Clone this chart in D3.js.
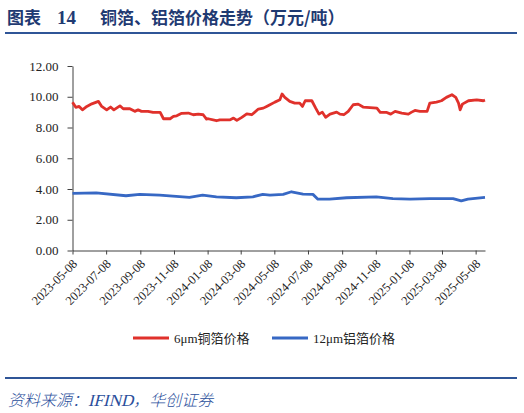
<!DOCTYPE html>
<html>
<head>
<meta charset="utf-8">
<script src="https://cdn.jsdelivr.net/npm/d3@7"></script>
<style>
  body { margin: 0; background: #fff; }
  svg { display: block; }
  .axis path, .axis line { stroke: #404040; }
</style>
</head>
<body>
<div id="chart"></div>
<script>
// 6μm copper foil price, 万元/吨
var copperDates = ["2023-05-08","2023-05-14","2023-05-20","2023-05-26","2023-06-03","2023-06-12","2023-06-24","2023-06-30",
  "2023-07-09","2023-07-16","2023-07-22","2023-08-02","2023-08-08","2023-08-20","2023-08-29","2023-09-04","2023-09-10",
  "2023-09-22","2023-10-01","2023-10-14","2023-10-20","2023-11-01","2023-11-07","2023-11-13","2023-11-22","2023-12-04",
  "2023-12-13","2023-12-22","2023-12-31","2024-01-06","2024-01-09","2024-01-24","2024-01-30","2024-02-18","2024-02-24",
  "2024-03-01","2024-03-10","2024-03-19","2024-03-28","2024-04-09","2024-04-18","2024-04-24","2024-04-30","2024-05-09",
  "2024-05-18","2024-05-22","2024-05-27","2024-06-05","2024-06-14","2024-06-23","2024-06-28","2024-07-03","2024-07-15",
  "2024-07-22","2024-07-28","2024-08-03","2024-08-09","2024-08-17","2024-08-29","2024-09-04","2024-09-11","2024-09-19",
  "2024-09-28","2024-10-07","2024-10-16","2024-11-10","2024-11-16","2024-11-28","2024-12-05","2024-12-13","2024-12-25",
  "2025-01-06","2025-01-12","2025-01-18","2025-01-27","2025-02-09","2025-02-14","2025-02-26","2025-03-07","2025-03-16",
  "2025-03-26","2025-04-02","2025-04-07","2025-04-10","2025-04-14","2025-04-25","2025-05-10","2025-05-22","2025-05-25"];
var copperValues = [9.65,9.31,9.37,9.15,9.37,9.54,9.70,9.37,
  9.15,9.33,9.15,9.41,9.22,9.22,9.05,9.15,9.05,
  9.05,8.98,8.98,8.57,8.57,8.72,8.76,8.92,8.94,
  8.83,8.87,8.83,8.55,8.57,8.44,8.50,8.50,8.61,
  8.46,8.66,8.89,8.83,9.20,9.26,9.37,9.48,9.65,
  9.80,10.18,9.96,9.70,9.59,9.59,9.37,9.74,9.74,
  9.26,8.87,9.00,8.66,8.87,9.00,8.87,8.83,9.05,
  9.48,9.52,9.33,9.26,8.98,8.98,8.87,9.05,8.94,
  8.87,9.00,9.11,9.05,9.05,9.59,9.65,9.74,9.96,
  10.13,9.96,9.59,9.15,9.52,9.74,9.80,9.74,9.78];

// 12μm aluminium foil price, 万元/吨
var aluDates = ["2023-05-08","2023-06-20","2023-08-13","2023-09-07","2023-10-13","2023-12-06","2023-12-30","2024-01-24",
  "2024-02-29","2024-03-30","2024-04-17","2024-04-30","2024-05-24","2024-06-08","2024-06-29","2024-07-17","2024-07-26",
  "2024-08-16","2024-09-16","2024-11-09","2024-12-09","2025-01-09","2025-02-14","2025-03-28","2025-04-12","2025-04-24",
  "2025-05-25"];
var aluValues = [3.71,3.75,3.56,3.65,3.60,3.45,3.60,3.49,
  3.43,3.49,3.65,3.60,3.65,3.82,3.67,3.65,3.34,
  3.34,3.43,3.49,3.38,3.34,3.38,3.38,3.23,3.34,
  3.45];

var tickDates = ["2023-05-08","2023-07-08","2023-09-08","2023-11-08","2024-01-08","2024-03-08","2024-05-08",
  "2024-07-08","2024-09-08","2024-11-08","2025-01-08","2025-03-08","2025-05-08"];
var yTicks = [0, 2, 4, 6, 8, 10, 12];

var W = 524, H = 413;
var SERIF = "'Liberation Serif', 'Times New Roman', 'DejaVu Serif', serif";
var parse = d3.timeParse("%Y-%m-%d");

var svg = d3.select("#chart").append("svg")
    .attr("width", W)
    .attr("height", H);

// title and rules
var title = svg.append("g").attr("fill", "#1f3a72").attr("font-weight", "bold");
title.append("text").attr("x", 7).attr("y", 24)
    .style("font-family", "'Noto Sans CJK SC'").style("font-size", "17px").text("图表");
title.append("text").attr("x", 57).attr("y", 24)
    .style("font-family", SERIF).style("font-size", "19px").text("14");
title.append("text").attr("x", 100).attr("y", 24)
    .style("font-family", "'Noto Sans CJK SC'").style("font-size", "17px").text("铜箔、铝箔价格走势（万元/吨）");

svg.append("line").attr("x1", 5).attr("x2", 517).attr("y1", 33).attr("y2", 33)
    .attr("stroke", "#2f5597").attr("stroke-width", 2);
svg.append("line").attr("x1", 5).attr("x2", 517).attr("y1", 378).attr("y2", 378)
    .attr("stroke", "#2f5597").attr("stroke-width", 2);

var src = svg.append("text")
    .attr("transform", "translate(8,406) skewX(-14)")
    .attr("fill", "#2b4f9c")
    .style("font-size", "16px");
src.append("tspan").style("font-family", "'Noto Sans CJK SC'").style("font-weight", "300").text("资料来源：");
src.append("tspan").style("font-family", SERIF).style("font-size", "17px").text("IFIND");
src.append("tspan").style("font-family", "'Noto Sans CJK SC'").style("font-weight", "300").text("，华创证券");

// scales
var x = d3.scaleTime()
    .domain([parse("2023-05-08"), parse("2025-05-25")])
    .range([72.5, 485]);

var y = d3.scaleLinear()
    .domain([0, 12])
    .range([250.5, 66]);

// axes
var yAxis = svg.append("g")
    .attr("class", "axis")
    .attr("transform", "translate(72.5,0)")
    .call(d3.axisLeft(y).tickValues(yTicks).tickSize(5).tickSizeOuter(0).tickPadding(9)
        .tickFormat(d3.format(".2f")));
yAxis.attr("font-family", null);
yAxis.selectAll("text")
    .style("font-family", SERIF)
    .style("font-size", "13px")
    .attr("fill", "#222");

var xAxis = svg.append("g")
    .attr("class", "axis")
    .attr("transform", "translate(0,250.5)")
    .call(d3.axisBottom(x).tickValues(tickDates.map(parse)).tickSize(4).tickSizeOuter(0)
        .tickFormat(d3.timeFormat("%Y-%m-%d")));
xAxis.attr("font-family", null);
xAxis.selectAll("text")
    .style("font-family", SERIF)
    .style("font-size", "12.5px")
    .attr("fill", "#222")
    .attr("text-anchor", "end")
    .attr("x", 0).attr("y", 0).attr("dy", 0)
    .attr("transform", "translate(5,14) rotate(-45)");

// lines
var line = d3.line()
    .x(function(d) { return x(d.date); })
    .y(function(d) { return y(d.value); });

var copper = copperDates.map(function(d, i) { return { date: parse(d), value: copperValues[i] }; });
var alu = aluDates.map(function(d, i) { return { date: parse(d), value: aluValues[i] }; });

svg.append("path").datum(copper)
    .attr("d", line)
    .attr("fill", "none")
    .attr("stroke", "#e0312b")
    .attr("stroke-width", 2.8)
    .attr("stroke-linejoin", "round");

svg.append("path").datum(alu)
    .attr("d", line)
    .attr("fill", "none")
    .attr("stroke", "#3768c4")
    .attr("stroke-width", 2.8)
    .attr("stroke-linejoin", "round");

// legend
var legend = [
  { name: "6μm", rest: "铜箔价格", color: "#e0312b", x: 133 },
  { name: "12μm", rest: "铝箔价格", color: "#3768c4", x: 272 }
];
var lg = svg.append("g").selectAll("g").data(legend).enter().append("g")
    .attr("transform", function(d) { return "translate(" + d.x + ",338)"; });
lg.append("line")
    .attr("x1", 0).attr("x2", 36)
    .attr("stroke", function(d) { return d.color; })
    .attr("stroke-width", 2.8);
var lt = lg.append("text").attr("x", 41).attr("y", 4.5).attr("fill", "#222").style("font-size", "13px");
lt.append("tspan").style("font-family", SERIF).text(function(d) { return d.name; });
lt.append("tspan").style("font-family", "'Noto Sans CJK SC'").text(function(d) { return d.rest; });
</script>
</body>
</html>
